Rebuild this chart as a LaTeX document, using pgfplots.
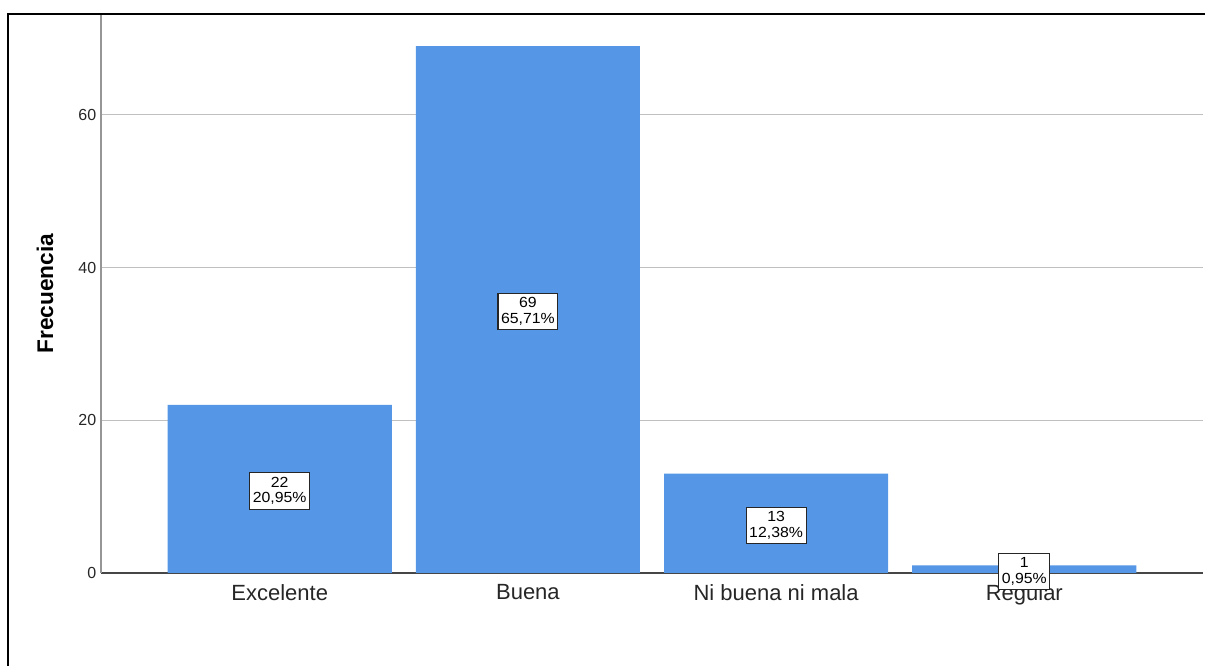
\documentclass[border=0pt]{standalone}
\usepackage{fontspec}
\setmainfont{Liberation Sans}
\newfontfamily\boxfont[FakeStretch=1.08]{Liberation Sans}
\usepackage{pgfplots}
\pgfplotsset{compat=1.18}
\newcommand\lb{\\[1.6pt]}
\definecolor{barblue}{RGB}{85,150,230}
\definecolor{gridgray}{RGB}{192,192,192}
\definecolor{yaxgray}{RGB}{150,150,150}
\definecolor{xaxgray}{RGB}{70,70,70}
\begin{document}
\begin{tikzpicture}
\path[use as bounding box] (0,0) rectangle (903.75pt,499.5pt);
\begin{axis}[
  at={(75.75pt,69.75pt)}, anchor=south west,
  scale only axis, width=826.5pt, height=419.25pt,
  xmin=-0.72, xmax=3.72, ymin=0, ymax=73.2,
  axis x line=bottom, axis y line=left,
  axis line style={-},
  x axis line style={draw=xaxgray, line width=0.8pt},
  y axis line style={draw=yaxgray, line width=0.9pt},
  xtick={0,1,2,3},
  xticklabels={Excelente,Buena,Ni buena ni mala,Regular},
  ytick={0,20,40,60},
  major tick length=0pt,
  ymajorgrids, major grid style={draw=gridgray, line width=1pt},
  /pgf/number format/assume math mode=true,
  yticklabel style={font=\fontsize{12}{14}\selectfont, text=black!85},
  xticklabel style={font=\fontsize{16.5}{19}\selectfont, text=black!85, yshift=-5pt},
  ylabel={Frecuencia},
  ylabel style={font=\bfseries\fontsize{17}{20}\selectfont, at={(axis description cs:-0.0508,0.5)}, anchor=center},
]
\addplot[ybar, bar width=0.903, fill=barblue, draw=none] coordinates {(0,22) (1,69) (2,13) (3,1)};
\addplot[only marks, mark=none, nodes near coords, point meta=explicit symbolic,
  nodes near coords style={anchor=center, align=center, fill=white, draw=black!85, line width=0.8pt,
    font=\boxfont\fontsize{11}{10}\selectfont, inner xsep=2.3pt, inner ysep=3.2pt, yshift=-1.5pt}]
  coordinates {(0,11) [22\lb 20,95\%] (1,34.5) [69\lb 65,71\%] (2,6.5) [13\lb 12,38\%] (3,0.5) [1\lb 0,95\%]};
\end{axis}
\draw[line width=1.5pt] (6pt,0) -- (6pt,489pt) -- (903.75pt,489pt);
\end{tikzpicture}
\end{document}
